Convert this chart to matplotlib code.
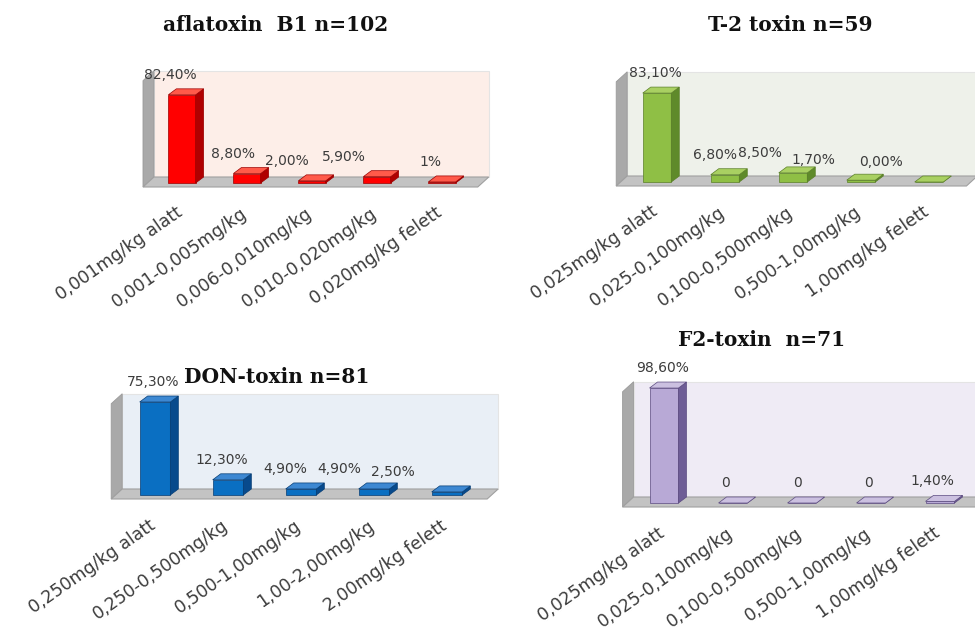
import matplotlib.pyplot as plt
from matplotlib.patches import Polygon
from matplotlib.transforms import ScaledTranslation

# aflatoxin B1
afla_cats = ['0,001mg/kg alatt', '0,001-0,005mg/kg', '0,006-0,010mg/kg',
             '0,010-0,020mg/kg', '0,020mg/kg felett']
afla_vals = [82.4, 8.8, 2.0, 5.9, 1.0]
afla_text = ['82,40%', '8,80%', '2,00%', '5,90%', '1%']

# T-2 toxin
t2_cats = ['0,025mg/kg alatt', '0,025-0,100mg/kg', '0,100-0,500mg/kg',
           '0,500-1,00mg/kg', '1,00mg/kg felett']
t2_vals = [83.1, 6.8, 8.5, 1.7, 0.0]
t2_text = ['83,10%', '6,80%', '8,50%', '1,70%', '0,00%']

# DON-toxin
don_cats = ['0,250mg/kg alatt', '0,250-0,500mg/kg', '0,500-1,00mg/kg',
            '1,00-2,00mg/kg', '2,00mg/kg felett']
don_vals = [75.3, 12.3, 4.9, 4.9, 2.5]
don_text = ['75,30%', '12,30%', '4,90%', '4,90%', '2,50%']

# F2-toxin
f2_cats = ['0,025mg/kg alatt', '0,025-0,100mg/kg', '0,100-0,500mg/kg',
           '0,500-1,00mg/kg', '1,00mg/kg felett']
f2_vals = [98.6, 0, 0, 0, 1.4]
f2_text = ['98,60%', '0', '0', '0', '1,40%']

W, H = 975, 635
fig = plt.figure(figsize=(W / 100, H / 100), dpi=100)
fig.patch.set_facecolor('white')

TXT = '#3c3c3c'


def panel(title, cats, vals, text, colors, geo, nudge, title_xy):
    face, side, top, edge, wall = colors
    cx0, sp, by, ppu, wall_top = geo          # bar-1 centre px, spacing px, base px, px per %, wall top
    x_lo, x_hi, y_lo = -0.75, 4.75, -5
    y_hi = wall_top + 3
    left, right = cx0 + x_lo * sp, cx0 + x_hi * sp
    bot, tp = by - y_lo * ppu, by - y_hi * ppu
    ax = fig.add_axes([left / W, 1 - bot / H, (right - left) / W, (bot - tp) / H])
    ax.set_xlim(x_lo, x_hi)
    ax.set_ylim(y_lo, y_hi)
    ax.patch.set_alpha(0)
    for s in ax.spines.values():
        s.set_visible(False)
    ax.set_yticks([])

    # depth offsets for the 3-D look
    fdx, fdy = 11 / sp, 10 / ppu
    bdx, bdy = 8 / sp, 6 / ppu
    xl, xr = -0.6, 4.55
    f0 = -4 / ppu

    # back wall, side wall and floor
    ax.add_patch(Polygon([(xl + fdx, f0 + fdy), (xr + fdx, f0 + fdy), (xr + fdx, wall_top),
                          (xl + fdx, wall_top)], closed=True, fc=wall, ec='#e4e4e4', lw=0.8, zorder=1))
    ax.add_patch(Polygon([(xl, f0), (xl + fdx, f0 + fdy), (xl + fdx, wall_top),
                          (xl, wall_top - fdy)], closed=True, fc='#a9a9a9', ec='#9a9a9a', lw=0.6, zorder=2))
    ax.add_patch(Polygon([(xl, f0), (xr, f0), (xr + fdx, f0 + fdy), (xl + fdx, f0 + fdy)],
                         closed=True, fc='#c3c3c3', ec='#a0a0a0', lw=0.8, zorder=2))

    w = 0.42
    xs = range(len(vals))
    ax.bar(xs, vals, width=w, color=face, edgecolor=edge, linewidth=0.5, zorder=3)
    for x, v in zip(xs, vals):
        r, l = x + w / 2, x - w / 2
        ax.add_patch(Polygon([(r, 0), (r + bdx, bdy), (r + bdx, v + bdy), (r, v)],
                             closed=True, fc=side, ec=edge, lw=0.5, zorder=3))
        ax.add_patch(Polygon([(l, v), (r, v), (r + bdx, v + bdy), (l + bdx, v + bdy)],
                             closed=True, fc=top, ec=edge, lw=0.5, zorder=4))

    for x, v, t, n in zip(xs, vals, text, nudge):
        ax.annotate(t, (x, v), xytext=(n * 0.72, 20 * 0.72), textcoords='offset points',
                    ha='center', va='center', fontsize=10, color=TXT, zorder=5)

    ax.set_xticks(list(xs))
    ax.set_xticklabels(cats, rotation=35, ha='right', rotation_mode='anchor',
                       fontsize=12.5, color=TXT)
    ax.tick_params(axis='x', length=0, pad=11)
    shift = ScaledTranslation(-0.07, 0, fig.dpi_scale_trans)
    for lbl in ax.get_xticklabels():
        lbl.set_transform(lbl.get_transform() + shift)

    fig.text(title_xy[0] / W, 1 - title_xy[1] / H, title, ha='center', va='center',
             fontsize=14.5, fontweight='bold', family='DejaVu Serif', color='#111111')


panel('aflatoxin  B1 n=102', afla_cats, afla_vals, afla_text,
      ('#ff0000', '#b00000', '#ff5a4a', '#9a0000', '#fdeee8'),
      (182, 65, 183, 1.07, 105), [-12, -14, -25, -33, -12], (276, 25))

panel('T-2 toxin n=59', t2_cats, t2_vals, t2_text,
      ('#8fbf45', '#5f8a2a', '#a9d062', '#5a7f28', '#eef1ea'),
      (657, 68, 182, 1.07, 103), [-2, -10, -33, -48, -48], (790, 25))

panel('DON-toxin n=81', don_cats, don_vals, don_text,
      ('#0a6fc2', '#084a8c', '#3d88d2', '#063d74', '#e9eff6'),
      (155, 73, 495, 1.235, 82), [-2, -6, -16, -35, -54], (277, 377))

panel('F2-toxin  n=71', f2_cats, f2_vals, f2_text,
      ('#b8a9d6', '#6e5d96', '#cbc0e0', '#5b4a80', '#efebf5'),
      (664, 69, 503, 1.166, 104), [-1, -7, -5, -3, -8], (762, 340))

fig.savefig('out.png', dpi=100)
